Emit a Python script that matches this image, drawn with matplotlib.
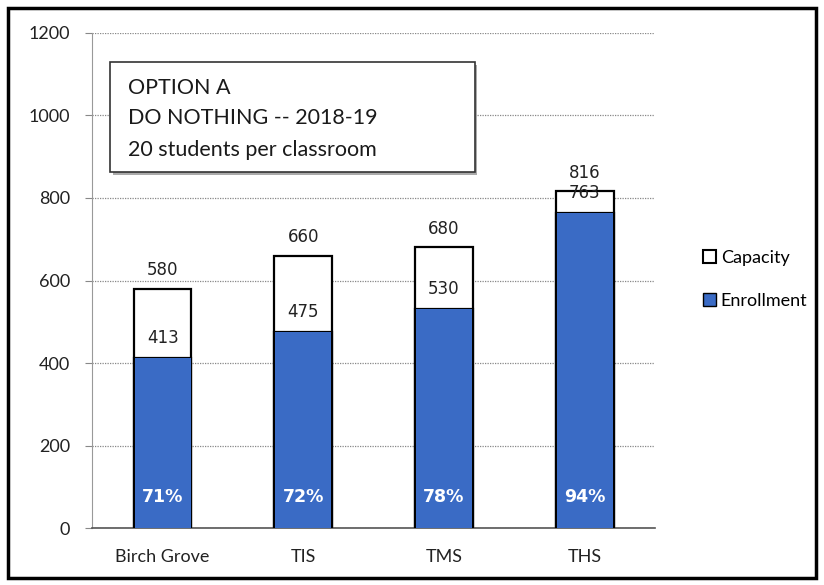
import numpy as np
import matplotlib.pyplot as plt
from matplotlib.patches import Rectangle, Patch

schools = ['Birch Grove', 'TIS', 'TMS', 'THS']
capacity = [580, 660, 680, 816]
enrollment = [413, 475, 530, 763]
pct = ['71%', '72%', '78%', '94%']

plt.rcParams['font.family'] = ['Lato', 'DejaVu Sans']

fig = plt.figure(figsize=(8.24, 5.85), dpi=100)
ax = fig.add_axes([0.112, 0.097, 0.683, 0.847])

x = np.arange(len(schools))
w = 0.41
blue = '#3a6bc5'

ax.bar(x, capacity, w, color='white', edgecolor='black', linewidth=1.6, zorder=2)
ax.bar(x, enrollment, w, color=blue, edgecolor='black', linewidth=1.6, zorder=3)
ax.bar(x, enrollment, w - 0.012, color=blue, linewidth=0, zorder=3)

for i in range(len(schools)):
    ax.annotate(str(capacity[i]), (x[i], capacity[i]), xytext=(0, 7),
                textcoords='offset points', ha='center', va='bottom',
                fontsize=12, family='DejaVu Sans', color='#222222')
    ax.annotate(str(enrollment[i]), (x[i], enrollment[i]), xytext=(0, 8),
                textcoords='offset points', ha='center', va='bottom',
                fontsize=12, family='DejaVu Sans', color='#222222', zorder=5)
    ax.text(x[i], 75, pct[i], ha='center', va='center', color='white',
            fontsize=12.5, family='DejaVu Sans', fontweight='bold', zorder=5)

ax.set_xlim(-0.5, 3.5)
ax.set_ylim(0, 1200)
ax.set_yticks(range(0, 1201, 200))
ax.set_xticks(x)
ax.set_xticklabels(schools)
ax.tick_params(axis='both', labelsize=13, colors='#222222')
ax.tick_params(axis='x', length=0, pad=15)
ax.tick_params(axis='y', length=5, pad=11, color='#888888')
ax.yaxis.grid(True, color='#888888', linestyle=(0, (1, 1)), linewidth=0.9)
ax.set_axisbelow(True)
for s in ['top', 'right']:
    ax.spines[s].set_visible(False)
ax.spines['left'].set_color('#999999')
ax.spines['bottom'].set_color('#555555')
ax.spines['bottom'].set_linewidth(1.2)

# title box with a soft shadow
bx0, bx1 = 0.032, 0.680
by0, by1 = 863, 1130
tr = ax.get_yaxis_transform()
ax.add_patch(Rectangle((bx0 + 0.004, by0 - 8), bx1 - bx0, by1 - by0, transform=tr,
                       facecolor='#aaaaaa', edgecolor='none', zorder=5))
ax.add_patch(Rectangle((bx0, by0), bx1 - bx0, by1 - by0, transform=tr,
                       facecolor='white', edgecolor='#333333', linewidth=1.2, zorder=6))
title_lines = ['OPTION A', 'DO NOTHING -- 2018-19', '20 students per classroom']
title_y = [1066, 993, 916]
for t, yy in zip(title_lines, title_y):
    ax.text(0.064, yy, t, transform=tr, ha='left', va='center', fontsize=15.5,
            color='#1a1a1a', zorder=7)

handles = [Patch(facecolor='white', edgecolor='black', linewidth=1.5),
           Patch(facecolor=blue, edgecolor='black', linewidth=1.0)]
fig.legend(handles, ['Capacity', 'Enrollment'], loc='center left',
           bbox_to_anchor=(0.833, 0.523), frameon=False, fontsize=13,
           handlelength=0.75, handleheight=0.75, handletextpad=0.25,
           labelspacing=1.5)

fig.patches.append(Rectangle((0.01, 0.012), 0.98, 0.975, transform=fig.transFigure,
                             fill=False, edgecolor='black', linewidth=2.5))

fig.savefig('out.png', dpi=100)
